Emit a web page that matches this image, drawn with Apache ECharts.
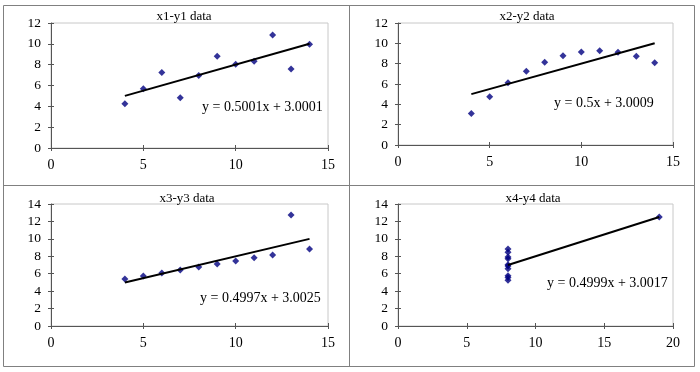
<!DOCTYPE html>
<html><head><meta charset="utf-8">
<script src="https://cdn.jsdelivr.net/npm/echarts@6/dist/echarts.min.js"></script>
<style>html,body{margin:0;padding:0;background:#fff}#c{width:700px;height:372px}</style>
</head><body><div id="c"></div>
<script>
// Anscombe's quartet
const x123 = [10, 8, 13, 9, 11, 14, 6, 4, 12, 7, 5];
const y1 = [8.04, 6.95, 7.58, 8.81, 8.33, 9.96, 7.24, 4.26, 10.84, 4.82, 5.68];
const y2 = [9.14, 8.14, 8.74, 8.77, 9.26, 8.10, 6.13, 3.10, 9.13, 7.26, 4.74];
const y3 = [7.46, 6.77, 12.74, 7.11, 7.84, 8.84, 6.08, 5.39, 8.15, 6.42, 5.73];
const x4 = [8, 8, 8, 8, 8, 8, 8, 19, 8, 8, 8];
const y4 = [6.58, 5.76, 7.71, 8.84, 8.47, 7.04, 5.25, 12.50, 5.56, 7.91, 6.89];
// trend line endpoints (as drawn)
const trend1 = [[4, 5.0005], [14, 10.0015]];
const trend2 = [[4, 5.0009], [14, 10.0009]];
const trend3 = [[4, 5.0013], [14, 9.9983]];
const trend4 = [[8, 6.9999], [19, 12.5]];
const titles = ['x1-y1 data', 'x2-y2 data', 'x3-y3 data', 'x4-y4 data'];
const equations = ['y = 0.5001x + 3.0001', 'y = 0.5x + 3.0009', 'y = 0.4997x + 3.0025', 'y = 0.4999x + 3.0017'];
const xMax = [15, 15, 15, 20];
const yMax = [12, 12, 14, 14];

const FONT = '"Liberation Serif", "Times New Roman", serif';
const grids = [
  {left: 51, top: 23, width: 277, height: 125},
  {left: 398, top: 23, width: 275, height: 122},
  {left: 51, top: 204, width: 277, height: 122},
  {left: 398, top: 204, width: 275, height: 122}
];
const zipPts = (xs, ys) => xs.map((x, i) => [x, ys[i]]);
const pts = [zipPts(x123, y1), zipPts(x123, y2), zipPts(x123, y3), zipPts(x4, y4)];
const trends = [trend1, trend2, trend3, trend4];

const xAxis = [], yAxis = [], series = [];
grids.forEach((g, i) => {
  const common = {gridIndex: i, min: 0, splitLine: {show: false}};
  xAxis.push(Object.assign({}, common, {type: 'value', max: xMax[i], interval: 5,
    axisLine: {lineStyle: {color: '#555', width: 1}},
    axisTick: {show: true, length: 3, lineStyle: {color: '#555'}},
    axisLabel: {color: '#000', fontFamily: FONT, fontSize: 14, margin: 10}}));
  xAxis.push(Object.assign({}, common, {type: 'value', max: xMax[i], interval: 5, position: 'bottom',
    axisLine: {show: false},
    axisTick: {show: true, inside: true, length: 3, lineStyle: {color: '#555'}},
    axisLabel: {show: false}}));
  yAxis.push(Object.assign({}, common, {type: 'value', max: yMax[i], interval: 2,
    axisLine: {show: true, lineStyle: {color: '#555', width: 1}},
    axisTick: {show: true, length: 3, lineStyle: {color: '#555'}},
    axisLabel: {color: '#000', fontFamily: FONT, fontSize: 13.5, margin: 10}}));
  yAxis.push(Object.assign({}, common, {type: 'value', max: yMax[i], interval: 2, position: 'left',
    axisLine: {show: false},
    axisTick: {show: true, inside: true, length: 3, lineStyle: {color: '#555'}},
    axisLabel: {show: false}}));
  series.push({type: 'scatter', xAxisIndex: 2 * i, yAxisIndex: 2 * i, data: pts[i],
    symbol: 'diamond', symbolSize: 7, itemStyle: {color: '#000080'}, z: 3});
  series.push({type: 'line', xAxisIndex: 2 * i, yAxisIndex: 2 * i, data: trends[i],
    symbol: 'none', lineStyle: {color: '#000', width: 2}, z: 4});
});

const titlePos = [[184, 17], [527, 17], [187, 199], [533, 199]];
const eqPos = [[202, 107], [554, 103], [200, 298], [547, 283]];
const graphic = [
  {type: 'rect', shape: {x: 3.5, y: 5.5, width: 691, height: 361}, style: {fill: null, stroke: '#808080', lineWidth: 1}, z: 0},
  {type: 'line', shape: {x1: 349.5, y1: 5.5, x2: 349.5, y2: 366.5}, style: {stroke: '#808080', lineWidth: 1}},
  {type: 'line', shape: {x1: 3.5, y1: 185.5, x2: 694.5, y2: 185.5}, style: {stroke: '#808080', lineWidth: 1}}
];
titles.forEach((t, i) => graphic.push({type: 'text', x: titlePos[i][0], y: titlePos[i][1], z: 10,
  style: {text: t, font: '13px ' + FONT, fill: '#000', textAlign: 'center', textVerticalAlign: 'middle'}}));
equations.forEach((t, i) => graphic.push({type: 'text', x: eqPos[i][0], y: eqPos[i][1], z: 10,
  style: {text: t, font: '14px ' + FONT, fill: '#000', textAlign: 'left', textVerticalAlign: 'middle'}}));

const chart = echarts.init(document.getElementById('c'), null, {renderer: 'canvas'});
chart.setOption({
  animation: false,
  backgroundColor: '#fff',
  grid: grids.map(g => Object.assign({show: true, borderColor: '#c8c8c8', borderWidth: 1, backgroundColor: 'transparent'}, g)),
  xAxis, yAxis, series, graphic
});
</script></body></html>
